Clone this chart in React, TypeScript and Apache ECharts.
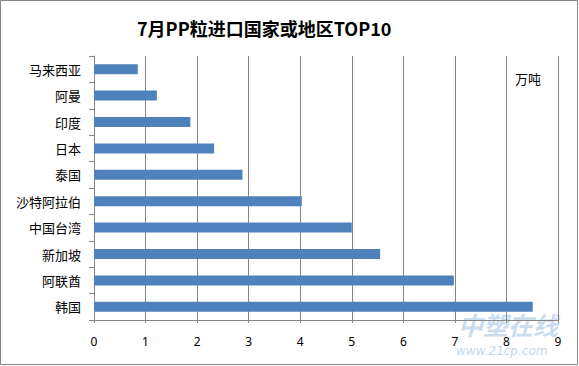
import React, { useEffect, useRef } from "react";
import * as echarts from "echarts";

const categories = ["马来西亚", "阿曼", "印度", "日本", "泰国", "沙特阿拉伯", "中国台湾", "新加坡", "阿联酋", "韩国"];
const values = [0.85, 1.22, 1.87, 2.33, 2.88, 4.03, 5.0, 5.55, 6.98, 8.51];
const xTicks = [0, 1, 2, 3, 4, 5, 6, 7, 8, 9];

export default function App() {
  const ref = useRef<HTMLDivElement>(null);
  useEffect(() => {
    const chart = echarts.init(ref.current!, null, { renderer: "svg" });
    chart.setOption({
      animation: false,
      backgroundColor: "#ffffff",
      title: {
        text: "7月PP粒进口国家或地区TOP10",
        left: 132,
        top: 14,
        textStyle: { fontSize: 18, fontWeight: "bold", color: "#000", fontFamily: "Noto Sans CJK SC" },
      },
      grid: { left: 94, right: 21, top: 56, bottom: 46 },
      xAxis: {
        type: "value",
        min: xTicks[0],
        max: xTicks[xTicks.length - 1],
        interval: 1,
        axisLine: { show: true, lineStyle: { color: "#868686" } },
        axisTick: { show: true, length: 3, lineStyle: { color: "#868686" } },
        splitLine: { show: true, lineStyle: { color: "#868686" } },
        axisLabel: { color: "#000", fontSize: 12, margin: 15, fontFamily: "Noto Sans" },
      },
      yAxis: {
        type: "category",
        data: categories,
        inverse: true,
        axisLine: { show: true, lineStyle: { color: "#868686" } },
        axisTick: { show: true, length: 5, lineStyle: { color: "#868686" } },
        axisLabel: { color: "#000", fontSize: 13, margin: 13, fontFamily: "Noto Sans CJK SC" },
      },
      series: [
        {
          type: "bar",
          data: values,
          barWidth: 10,
          itemStyle: { color: "#4F81BD" },
        },
      ],
      graphic: [
        {
          type: "rect",
          shape: { x: 0.5, y: 0.5, width: 577, height: 364 },
          style: { fill: "none", stroke: "#878787", lineWidth: 1 },
          silent: true,
        },
        {
          type: "text",
          left: 515,
          top: 72,
          style: { text: "万吨", fontSize: 13, fill: "#000", fontFamily: "Noto Sans CJK SC" },
        },
        {
          type: "text",
          left: 458,
          top: 311,
          style: { text: "中塑在线", fontSize: 25, fontStyle: "italic", fontWeight: "bold", fill: "rgba(150,185,225,0.5)", fontFamily: "Noto Sans CJK SC" },
          silent: true,
        },
        {
          type: "text",
          left: 456,
          top: 345,
          style: { text: "www.21cp.com", fontSize: 12, fontStyle: "italic", fill: "rgba(150,185,225,0.6)", fontFamily: "DejaVu Sans" },
          silent: true,
        },
      ],
    });
    return () => chart.dispose();
  }, []);
  return <div ref={ref} style={{ position: "fixed", left: 0, top: 0, width: 579, height: 366 }} />;
}
